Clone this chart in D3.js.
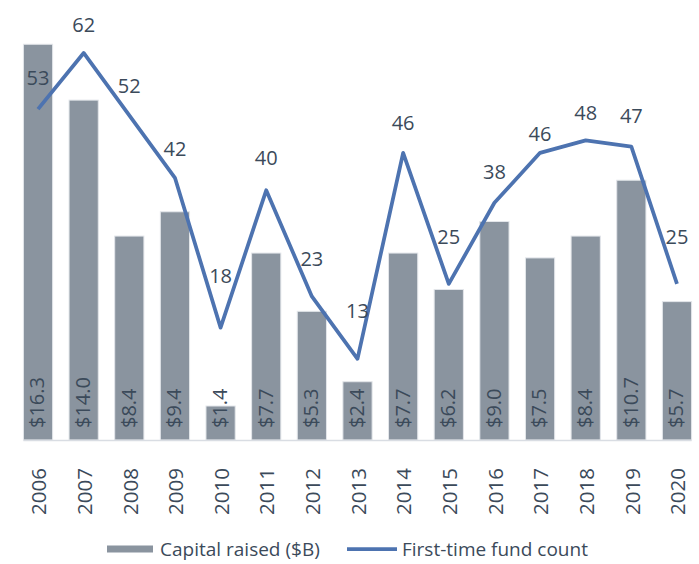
<html>
<head>
<meta charset="utf-8">
<script src="https://d3js.org/d3.v7.min.js"></script>
<style>
  body { margin: 0; background: #fff; }
  text { font-family: "Open Sans", "Noto Sans", sans-serif; fill: #3b4a5a; }
</style>
</head>
<body>
<div id="chart"></div>
<script>
var years = ["2006","2007","2008","2009","2010","2011","2012","2013","2014","2015","2016","2017","2018","2019","2020"];
var capital = [16.3, 14.0, 8.4, 9.4, 1.4, 7.7, 5.3, 2.4, 7.7, 6.2, 9.0, 7.5, 8.4, 10.7, 5.7];
var fundCount = [53, 62, 52, 42, 18, 40, 23, 13, 46, 25, 38, 46, 48, 47, 25];
// how far each count label sits above its point (px)
var countLift = [31, 28, 30, 29, 52, 32, 38, 48, 30, 47, 31, 19, 28, 31, 47];

var W = 699, H = 564;
var barColor = "#8a949f", lineColor = "#4d73b0";

var svg = d3.select("#chart").append("svg")
    .attr("width", W).attr("height", H);

var x = d3.scaleBand().domain(years).range([15.2, 699.8]).paddingInner(0.36).paddingOuter(0.18);
var yCap = d3.scaleLinear().domain([0, 18]).range([440, 3]);
var yCnt = d3.scaleLinear().domain([0, 70]).range([440, 3]);

var rows = years.map(function(d, i) { return {year: d, cap: capital[i], cnt: fundCount[i], lift: countLift[i]}; });

// bars
svg.selectAll("rect.bar").data(rows).enter().append("rect")
    .attr("class", "bar")
    .attr("x", function(d) { return x(d.year); })
    .attr("width", x.bandwidth())
    .attr("y", function(d) { return yCap(d.cap); })
    .attr("height", function(d) { return yCap(0) - yCap(d.cap); })
    .attr("fill", barColor)
    .attr("stroke", "#e3e6ea")
    .attr("stroke-width", 1);

// category axis line
svg.append("line")
    .attr("x1", x(years[0])).attr("x2", x(years[years.length - 1]) + x.bandwidth())
    .attr("y1", yCap(0) + 0.5).attr("y2", yCap(0) + 0.5)
    .attr("stroke", "#d9dde3").attr("stroke-width", 1.5);

// bar labels (rotated, inside base)
svg.selectAll("text.barlab").data(rows).enter().append("text")
    .attr("class", "barlab")
    .attr("transform", function(d) { return "translate(" + (x(d.year) + x.bandwidth() / 2) + "," + (yCap(0) - 12) + ") rotate(-90)"; })
    .attr("dy", "0.32em")
    .style("font-size", "20px")
    .text(function(d) { return "$" + d.cap.toFixed(1); });

// year labels
svg.selectAll("text.year").data(rows).enter().append("text")
    .attr("class", "year")
    .attr("transform", function(d) { return "translate(" + (x(d.year) + x.bandwidth() / 2) + ",468) rotate(-90)"; })
    .attr("text-anchor", "end")
    .attr("dy", "0.4em")
    .style("font-size", "20.5px")
    .text(function(d) { return d.year; });

// count line
var line = d3.line()
    .x(function(d) { return x(d.year) + x.bandwidth() / 2; })
    .y(function(d) { return yCnt(d.cnt); });

svg.append("path").datum(rows)
    .attr("d", line)
    .attr("fill", "none")
    .attr("stroke", lineColor)
    .attr("stroke-width", 3.75)
    .attr("stroke-linejoin", "round");

// count labels
svg.selectAll("text.cnt").data(rows).enter().append("text")
    .attr("class", "cnt")
    .attr("x", function(d) { return x(d.year) + x.bandwidth() / 2; })
    .attr("y", function(d) { return yCnt(d.cnt) - d.lift; })
    .attr("dy", "0.36em")
    .attr("text-anchor", "middle")
    .style("font-size", "20px")
    .text(function(d) { return d.cnt; });

// legend
var lg = svg.append("g");
lg.append("rect").attr("x", 107).attr("y", 545.5).attr("width", 46).attr("height", 7).attr("fill", barColor);
lg.append("text").attr("x", 160).attr("y", 549).attr("dy", "0.36em").style("font-size", "19px").text("Capital raised ($B)");
lg.append("line").attr("x1", 347).attr("x2", 397).attr("y1", 549).attr("y2", 549)
    .attr("stroke", lineColor).attr("stroke-width", 3.75);
lg.append("text").attr("x", 402).attr("y", 549).attr("dy", "0.36em").style("font-size", "19px").text("First-time fund count");
</script>
</body>
</html>
